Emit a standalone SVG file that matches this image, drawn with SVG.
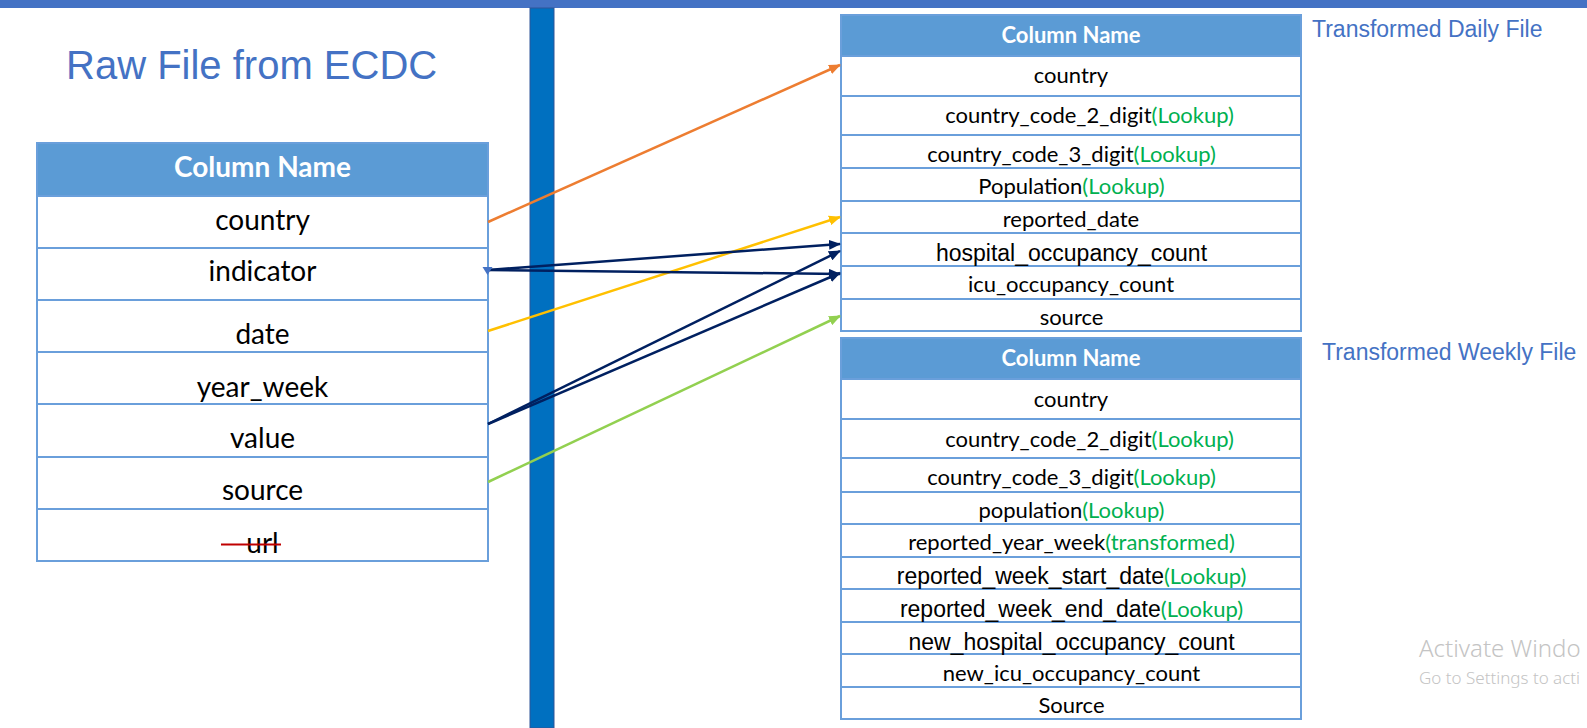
<svg xmlns="http://www.w3.org/2000/svg" width="1587" height="728" viewBox="0 0 1587 728">
<defs>
<style>
.bg{fill:#ffffff}
.hdrbox{fill:#5B9BD5}
.tbl{fill:none;stroke:#6A9FDB;stroke-width:2}
.row{stroke:#6A9FDB;stroke-width:2}
.cal{font-family:Lato,"Open Sans",sans-serif;fill:#000000;text-anchor:middle}
.ari{font-family:"Liberation Sans",Arial,sans-serif;fill:#000000}
.hdr{font-family:Lato,"Open Sans",sans-serif;font-weight:bold;fill:#ffffff;text-anchor:middle}
.g{fill:#00B050;font-family:Lato,"Open Sans",sans-serif}
.lcal{font-size:28px}
.rcal{font-size:22px}
.title{font-family:"Liberation Sans",Arial,sans-serif;fill:#4472C4}
.con{fill:none;stroke-width:2.5}
.wm{font-family:"Noto Sans","Open Sans",sans-serif;fill:#C4C4C4;font-weight:300}
</style>
<marker id="mO" markerUnits="userSpaceOnUse" markerWidth="12" markerHeight="10" refX="11" refY="5" orient="auto"><path d="M0,0 L12,5 L0,10 z" fill="#ED7D31"/></marker>
<marker id="mY" markerUnits="userSpaceOnUse" markerWidth="12" markerHeight="10" refX="11" refY="5" orient="auto"><path d="M0,0 L12,5 L0,10 z" fill="#FFC000"/></marker>
<marker id="mN" markerUnits="userSpaceOnUse" markerWidth="12" markerHeight="10" refX="11" refY="5" orient="auto"><path d="M0,0 L12,5 L0,10 z" fill="#002060"/></marker>
<marker id="mG" markerUnits="userSpaceOnUse" markerWidth="12" markerHeight="10" refX="11" refY="5" orient="auto"><path d="M0,0 L12,5 L0,10 z" fill="#92D050"/></marker>
</defs>
<rect class="bg" x="0" y="0" width="1587" height="728"/>
<g id="topbar"><rect x="0" y="0" width="1587" height="8" fill="#4472C4"/></g>
<g id="divider"><rect x="530" y="8" width="24" height="720" fill="#0070C0" stroke="#2F5597" stroke-width="1"/></g>

<g id="title-raw"><text class="title" x="66" y="79" font-size="40">Raw File from ECDC</text></g>
<g id="title-daily"><text class="title" x="1312" y="37" font-size="23">Transformed Daily File</text></g>
<g id="title-weekly"><text class="title" x="1322" y="360" font-size="23">Transformed Weekly File</text></g>

<g id="raw-table">
<rect class="hdrbox" x="37" y="143" width="451" height="53"/>
<rect class="tbl" x="37" y="143" width="451" height="418"/>
<line class="row" x1="37" y1="196" x2="488" y2="196"/>
<line class="row" x1="37" y1="248" x2="488" y2="248"/>
<line class="row" x1="37" y1="300" x2="488" y2="300"/>
<line class="row" x1="37" y1="352" x2="488" y2="352"/>
<line class="row" x1="37" y1="404" x2="488" y2="404"/>
<line class="row" x1="37" y1="457" x2="488" y2="457"/>
<line class="row" x1="37" y1="509" x2="488" y2="509"/>
<text class="hdr" x="262.5" y="177" font-size="28">Column Name</text>
<text class="cal lcal" x="262.5" y="230">country</text>
<text class="cal lcal" x="262.5" y="281">indicator</text>
<text class="cal lcal" x="262.5" y="344">date</text>
<text class="cal lcal" x="262.5" y="397">year_week</text>
<text class="cal lcal" x="262.5" y="448">value</text>
<text class="cal lcal" x="262.5" y="500">source</text>
<text class="cal lcal" x="262.5" y="553">url</text>
<line x1="221" y1="544.5" x2="281" y2="544.5" stroke="#C00000" stroke-width="2"/>
</g>

<g id="daily-table">
<rect class="hdrbox" x="841" y="15" width="460" height="41"/>
<rect class="tbl" x="841" y="15" width="460" height="316"/>
<line class="row" x1="841" y1="56" x2="1301" y2="56"/>
<line class="row" x1="841" y1="96" x2="1301" y2="96"/>
<line class="row" x1="841" y1="135" x2="1301" y2="135"/>
<line class="row" x1="841" y1="168" x2="1301" y2="168"/>
<line class="row" x1="841" y1="201" x2="1301" y2="201"/>
<line class="row" x1="841" y1="233" x2="1301" y2="233"/>
<line class="row" x1="841" y1="266" x2="1301" y2="266"/>
<line class="row" x1="841" y1="299" x2="1301" y2="299"/>
<text class="hdr" x="1071" y="43" font-size="22">Column Name</text>
<text class="cal rcal" x="1071" y="83">country</text>
<text class="cal rcal" x="1089.5" y="123">country_code_2_digit<tspan class="g">(Lookup)</tspan></text>
<text class="cal rcal" x="1071.5" y="162">country_code_3_digit<tspan class="g">(Lookup)</tspan></text>
<text class="cal rcal" x="1071.5" y="194">Population<tspan class="g">(Lookup)</tspan></text>
<text class="cal rcal" x="1071" y="227">reported_date</text>
<text class="ari" x="1071.5" y="261" font-size="23" text-anchor="middle">hospital_occupancy_count</text>
<text class="cal rcal" x="1071" y="292">icu_occupancy_count</text>
<text class="cal rcal" x="1071.5" y="325">source</text>
</g>

<g id="weekly-table">
<rect class="hdrbox" x="841" y="338" width="460" height="41"/>
<rect class="tbl" x="841" y="338" width="460" height="381"/>
<line class="row" x1="841" y1="379" x2="1301" y2="379"/>
<line class="row" x1="841" y1="419" x2="1301" y2="419"/>
<line class="row" x1="841" y1="458" x2="1301" y2="458"/>
<line class="row" x1="841" y1="492" x2="1301" y2="492"/>
<line class="row" x1="841" y1="524" x2="1301" y2="524"/>
<line class="row" x1="841" y1="557" x2="1301" y2="557"/>
<line class="row" x1="841" y1="589" x2="1301" y2="589"/>
<line class="row" x1="841" y1="622" x2="1301" y2="622"/>
<line class="row" x1="841" y1="654" x2="1301" y2="654"/>
<line class="row" x1="841" y1="687" x2="1301" y2="687"/>
<text class="hdr" x="1071" y="366" font-size="22">Column Name</text>
<text class="cal rcal" x="1071" y="407">country</text>
<text class="cal rcal" x="1089.5" y="447">country_code_2_digit<tspan class="g">(Lookup)</tspan></text>
<text class="cal rcal" x="1071.5" y="485">country_code_3_digit<tspan class="g">(Lookup)</tspan></text>
<text class="cal rcal" x="1071.5" y="518">population<tspan class="g">(Lookup)</tspan></text>
<text class="cal rcal" x="1071.5" y="550">reported_year_week<tspan class="g">(transformed)</tspan></text>
<text class="ari" x="1071.5" y="584" font-size="23" text-anchor="middle">reported_week_start_date<tspan class="g" font-size="22">(Lookup)</tspan></text>
<text class="ari" x="1071.5" y="617" font-size="23" text-anchor="middle">reported_week_end_date<tspan class="g" font-size="22">(Lookup)</tspan></text>
<text class="ari" x="1071.5" y="650" font-size="23" text-anchor="middle">new_hospital_occupancy_count</text>
<text class="cal rcal" x="1071.5" y="681">new_icu_occupancy_count</text>
<text class="cal rcal" x="1071.5" y="713">Source</text>
</g>

<g id="connectors">
<line class="con" x1="488" y1="222" x2="840" y2="65" stroke="#ED7D31" marker-end="url(#mO)"/>
<line class="con" x1="488" y1="331" x2="840" y2="217" stroke="#FFC000" marker-end="url(#mY)"/>
<line class="con" x1="488" y1="270" x2="840" y2="244" stroke="#002060" marker-end="url(#mN)"/>
<line class="con" x1="488" y1="270" x2="840" y2="274" stroke="#002060" marker-end="url(#mN)"/>
<line class="con" x1="488" y1="424" x2="840" y2="251" stroke="#002060" marker-end="url(#mN)"/>
<line class="con" x1="488" y1="424" x2="840" y2="273" stroke="#002060" marker-end="url(#mN)"/>
<line class="con" x1="488" y1="482" x2="840" y2="316" stroke="#92D050" marker-end="url(#mG)"/>
<polygon points="482.5,267 492.5,267 487.5,275" fill="#4472C4"/>
</g>

<g id="watermark">
<text class="wm" x="1419" y="657" font-size="24">Activate Windo</text>
<text class="wm" x="1419" y="684" font-size="17">Go to Settings to acti</text>
</g>
</svg>
